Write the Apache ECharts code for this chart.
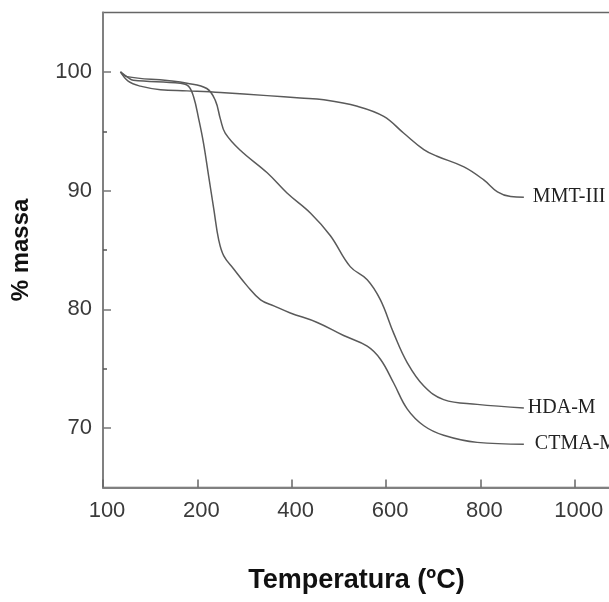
<!DOCTYPE html>
<html>
<head>
<meta charset="utf-8">
<script src="https://cdn.jsdelivr.net/npm/echarts@6/dist/echarts.min.js"></script>
<style>
  html, body { margin: 0; padding: 0; background: #fff; }
  #chart { width: 609px; height: 602px; }
</style>
</head>
<body>
<div id="chart"></div>
<script>
// --- valeurs --- //
const xTickLabels = ['100', '200', '400', '600', '800', '1000'];
const yTickValues = [70, 80, 90, 100];
const yMinorTicks = [75, 85, 95];

const seriesNames = ['MMT-III', 'HDA-M', 'CTMA-M'];

const mmtTemp = [37, 54, 79, 122, 178, 249, 348, 418, 468, 539, 595, 637, 680, 708, 765, 807, 836, 864, 892];
const mmtMass = [100, 99.2, 98.8, 98.5, 98.4, 98.26, 98.0, 97.8, 97.65, 97.1, 96.25, 94.85, 93.45, 92.9, 92.0, 90.9, 89.9, 89.5, 89.45];

const hdaTemp = [37, 51, 136, 178, 220, 238, 249, 259, 291, 348, 390, 440, 482, 524, 560, 588, 616, 645, 680, 722, 793, 892];
const hdaMass = [100, 99.6, 99.27, 99.05, 98.6, 97.6, 96.0, 94.85, 93.4, 91.5, 89.8, 88.1, 86.2, 83.6, 82.5, 80.8, 78.0, 75.5, 73.55, 72.4, 72.0, 71.7];

const ctmaTemp = [37, 54, 64, 164, 181, 192, 203, 213, 224, 235, 245, 256, 277, 305, 334, 362, 397, 454, 510, 560, 588, 616, 645, 680, 722, 793, 892];
const ctmaMass = [100, 99.5, 99.3, 99.05, 98.8, 97.9, 96.0, 94.0, 91.2, 88.4, 85.9, 84.5, 83.4, 82.0, 80.8, 80.3, 79.7, 78.9, 77.8, 76.9, 75.8, 73.8, 71.6, 70.2, 69.4, 68.8, 68.65];

function pairs(xs, ys) {
  return xs.map((x, i) => [x, ys[i]]);
}

const lineColor = '#5a5a5a';

function curve(name, xs, ys, dist) {
  return {
    name: name,
    type: 'line',
    data: pairs(xs, ys),
    showSymbol: false,
    smooth: 0.4,
    lineStyle: { color: lineColor, width: 1.5 },
    endLabel: {
      show: true,
      formatter: name,
      distance: dist,
      fontFamily: '"Liberation Serif", "DejaVu Serif", serif',
      fontSize: 20,
      color: '#222'
    }
  };
}

const chart = echarts.init(document.getElementById('chart'));

chart.setOption({
  animation: false,
  backgroundColor: '#fff',
  grid: {
    left: 103,
    top: 12.5,
    width: 519,
    height: 475,
    show: true,
    borderColor: '#666',
    borderWidth: 1.5,
    outerBoundsMode: 'none',
    containLabel: false
  },
  xAxis: {
    type: 'value',
    min: 0,
    max: 1100,
    interval: 200,
    name: 'Temperatura (ºC)',
    nameLocation: 'middle',
    nameGap: 80,
    nameTextStyle: {
      fontFamily: '"Liberation Sans", Arial, sans-serif',
      fontWeight: 'bold',
      fontSize: 27,
      color: '#111',
      padding: [0, 12, 0, 0]
    },
    axisLine: { show: true, lineStyle: { color: '#808080', width: 2 } },
    axisTick: { show: true, inside: true, length: 8, lineStyle: { color: '#666', width: 1.5 } },
    axisLabel: {
      margin: 12,
      fontFamily: '"Liberation Sans", Arial, sans-serif',
      fontSize: 22,
      color: '#3a3a3a',
      padding: [0, 0, 0, 8],
      formatter: v => xTickLabels[v / 200] || ''
    },
    splitLine: { show: false }
  },
  yAxis: [
    {
      type: 'value',
      min: 65,
      max: 105,
      name: '% massa',
      nameLocation: 'middle',
      nameGap: 70,
      nameRotate: 90,
      nameTextStyle: {
        fontFamily: '"Liberation Sans", Arial, sans-serif',
        fontWeight: 'bold',
        fontSize: 24,
        color: '#111'
      },
      axisLine: { show: true, lineStyle: { color: '#808080', width: 2 } },
      axisTick: {
        show: true, inside: true, length: 8,
        customValues: yTickValues,
        lineStyle: { color: '#777', width: 1.5 }
      },
      axisLabel: {
        margin: 11,
        fontFamily: '"Liberation Sans", Arial, sans-serif',
        fontSize: 22,
        color: '#3a3a3a',
        customValues: yTickValues
      },
      splitLine: { show: false }
    },
    {
      type: 'value',
      min: 65,
      max: 105,
      position: 'left',
      axisLine: { show: false },
      axisTick: {
        show: true, inside: true, length: 4,
        customValues: yMinorTicks,
        lineStyle: { color: '#555', width: 1.5 }
      },
      axisLabel: { show: false },
      splitLine: { show: false }
    }
  ],
  series: [
    curve(seriesNames[0], mmtTemp, mmtMass, 9),
    curve(seriesNames[1], hdaTemp, hdaMass, 4),
    curve(seriesNames[2], ctmaTemp, ctmaMass, 11)
  ]
});
</script>
</body>
</html>
